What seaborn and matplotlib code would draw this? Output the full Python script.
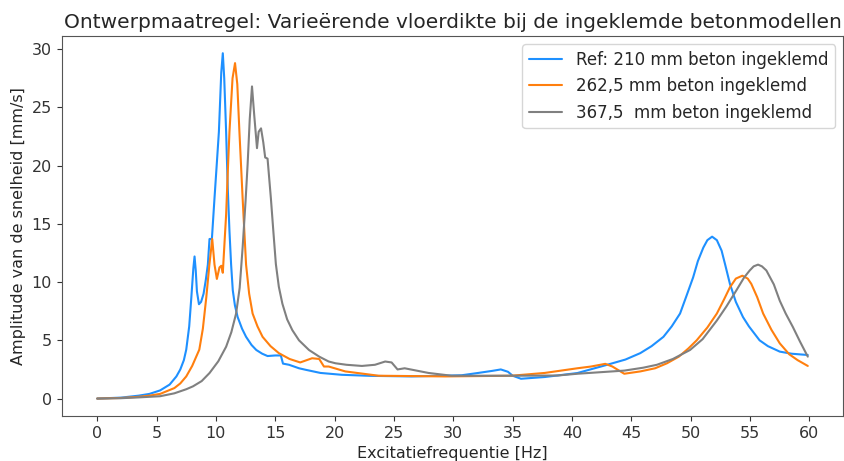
import numpy as np
import pandas as pd
import matplotlib
matplotlib.use("Agg")
import matplotlib.pyplot as plt
import seaborn as sns

# Ref: 210 mm beton ingeklemd
f_210 = [0, 2, 3.5, 4.4, 5.3, 6.1, 6.67, 7.0, 7.3, 7.5, 7.75, 7.93, 8.1, 8.2, 8.3, 8.4, 8.57,
         8.75, 8.96, 9.15, 9.32, 9.46, 9.66, 9.88, 10.05, 10.25, 10.45, 10.58, 10.7, 10.86,
         11.0, 11.14, 11.28, 11.42, 11.6, 11.83, 12.2, 12.54, 13.0, 13.4, 13.9, 14.35,
         15.0, 15.47, 15.65, 16.16, 17.0, 17.56, 18.8, 20.6, 23.0, 26.5, 30.7, 32.1, 33.3,
         34.0, 34.6, 35.0, 35.7, 37.7, 40.45, 42.96, 44.5, 45.75, 46.7, 47.7, 48.4, 49.1,
         49.6, 50.2, 50.6, 51.06, 51.4, 51.8, 52.2, 52.6, 52.9, 53.3, 53.8, 54.4, 54.9,
         55.8, 56.5, 57.5, 58.5, 59.86]
a_210 = [0.0, 0.08, 0.25, 0.4, 0.7, 1.2, 1.9, 2.5, 3.3, 4.2, 6.2, 8.7, 11.2, 12.2, 11.0, 9.2,
         8.1, 8.3, 9.0, 10.2, 11.5, 13.7, 13.7, 17.2, 19.8, 22.9, 28.0, 29.65, 27.5, 22.9,
         18.0, 14.4, 11.5, 9.3, 8.0, 7.0, 6.0, 5.3, 4.6, 4.17, 3.85, 3.65,
         3.7, 3.7, 3.0, 2.9, 2.6, 2.47, 2.2, 2.04, 1.95, 1.9, 2.0, 2.2, 2.38,
         2.5, 2.3, 1.96, 1.7, 1.85, 2.19, 2.9, 3.35, 3.9, 4.5, 5.3, 6.2, 7.3,
         8.7, 10.4, 11.8, 12.96, 13.6, 13.9, 13.6, 12.7, 11.5, 9.85, 8.3, 7.0, 6.2,
         5.0, 4.5, 4.03, 3.85, 3.74]

# 262,5 mm beton ingeklemd
f_2625 = [0, 2, 3.5, 4.4, 5.3, 6.5, 7.0, 7.5, 8.0, 8.6, 8.9, 9.19, 9.45, 9.69, 9.88, 10.08,
          10.3, 10.45, 10.58, 10.86, 11.0, 11.14, 11.4, 11.61, 11.8, 11.98, 12.25, 12.54,
          12.8, 13.09, 13.5, 13.93, 14.6, 15.3, 16.2, 17.1, 18.1, 18.7, 19.1, 19.5, 20.9,
          23.7, 29.3, 34.9, 37.7, 40.45, 41.6, 42.8, 43.4, 44.4, 45.75, 47.0, 48.0, 49.0,
          49.8, 50.5, 51.4, 52.2, 52.8, 53.3, 53.8, 54.35, 54.8, 55.1, 55.6, 56.1, 56.8,
          57.5, 58.3, 59.0, 59.86]
a_2625 = [0.0, 0.05, 0.15, 0.25, 0.4, 0.9, 1.3, 1.9, 2.8, 4.2, 6.0, 8.7, 11.5, 13.7, 11.5, 10.27,
          11.26, 11.4, 10.8, 15.8, 19.5, 22.9, 27.5, 28.8, 27.0, 22.9, 17.2, 11.5,
          9.0, 7.3, 6.2, 5.3, 4.5, 3.9, 3.4, 3.1, 3.46, 3.4, 2.75, 2.75, 2.33,
          1.96, 1.9, 1.96, 2.2, 2.6, 2.75, 2.98, 2.75, 2.13, 2.33, 2.6, 3.03, 3.6,
          4.3, 5.0, 6.1, 7.3, 8.5, 9.55, 10.3, 10.55, 10.3, 9.85, 8.7, 7.3, 5.9,
          4.74, 3.8, 3.3, 2.8]

# 367,5  mm beton ingeklemd
f_3675 = [0, 2, 3.5, 5.3, 6.5, 7.5, 8.07, 8.8, 9.46, 10.2, 10.86, 11.3, 11.7, 12.0, 12.25,
          12.5, 12.67, 12.85, 13.04, 13.23, 13.46, 13.6, 13.8, 13.99, 14.15, 14.35, 14.63,
          14.85, 15.05, 15.3, 15.6, 16.0, 16.44, 17.0, 17.84, 18.7, 19.5, 20.07, 21.0, 22.3,
          23.4, 24.26, 24.8, 25.3, 25.9, 27.9, 29.85, 34.9, 38.8, 40.45, 44.4, 46.0, 47.15,
          48.5, 49.94, 51.0, 52.2, 53.0, 53.85, 54.5, 54.97, 55.3, 55.67, 56.0, 56.37, 57.0,
          57.5, 58.0, 58.6, 59.2, 59.86]
a_3675 = [0.0, 0.03, 0.1, 0.2, 0.45, 0.8, 1.05, 1.5, 2.19, 3.2, 4.45, 5.7, 7.3, 9.5, 12.96,
          17.0, 20.1, 24.0, 26.8, 24.3, 21.5, 22.9, 23.2, 22.0, 20.7, 20.6, 17.2,
          14.2, 11.55, 9.6, 8.14, 6.8, 5.87, 5.0, 4.17, 3.6, 3.18, 3.03, 2.9, 2.8,
          2.9, 3.18, 3.1, 2.5, 2.6, 2.2, 1.96, 1.96, 1.98, 2.13, 2.4, 2.65, 2.9,
          3.4, 4.17, 5.1, 6.7, 7.9, 9.3, 10.4, 11.0, 11.35, 11.5, 11.35, 11.0, 9.8,
          8.4, 7.3, 6.15, 4.9, 3.6]

labels = ["Ref: 210 mm beton ingeklemd", "262,5 mm beton ingeklemd", "367,5  mm beton ingeklemd"]
colors = ["dodgerblue", "tab:orange", "gray"]
series = [(f_210, a_210), (f_2625, a_2625), (f_3675, a_3675)]

sns.set_style("ticks")
plt.rcParams['font.family'] = ['DejaVu Sans']

fig, ax = plt.subplots(figsize=(8.45, 4.61), dpi=100)
for (f, a), lab, c in zip(series, labels, colors):
    df = pd.DataFrame({"f": f, "a": a})
    sns.lineplot(data=df, x="f", y="a", ax=ax, color=c, label=lab, linewidth=1.5)

ax.set_xticks(np.arange(0, 61, 5))
ax.tick_params(labelsize=11.5, colors="#333333")
for sp in ax.spines.values():
    sp.set_color("#555555")
ax.set_xlabel("Excitatiefrequentie [Hz]", fontsize=11.5)
ax.set_ylabel("Amplitude van de snelheid [mm/s]", fontsize=11.5)
ax.set_title("Ontwerpmaatregel: Varieërende vloerdikte bij de ingeklemde betonmodellen", fontsize=14.5)
ax.legend(loc="upper right", fontsize=12)
ax.margins(x=0.05, y=0.05)

fig.subplots_adjust(left=0.073, right=0.998, bottom=0.098, top=0.922)
fig.savefig("out.png", dpi=100)
